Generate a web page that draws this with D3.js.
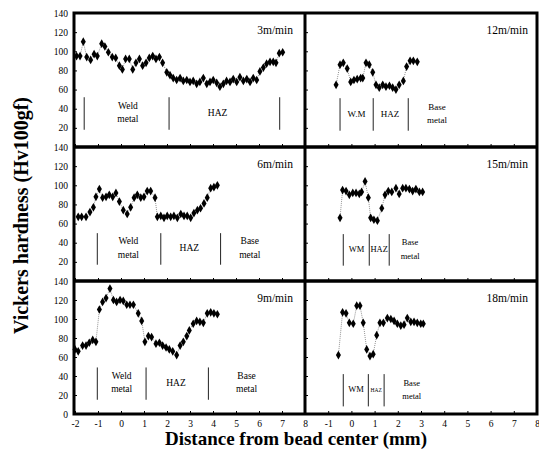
<!DOCTYPE html>
<html>
<head>
<meta charset="utf-8">
<script src="https://cdn.jsdelivr.net/npm/d3@7.9.0/dist/d3.min.js"></script>
<style>
  body { margin: 0; background: #fff; }
  svg text { font-family: "Liberation Serif", "DejaVu Serif", serif; fill: #000; }
</style>
</head>
<body>
<svg id="chart" width="539" height="455"></svg>
<script>
// ---- data ----
// 3 m/min
const pos3 = [-1.93,-1.78,-1.64,-1.49,-1.32,-1.17,-1.03,-0.84,-0.70,-0.55,-0.38,-0.23,-0.07,0.06,0.20,0.36,0.51,0.65,0.80,0.94,
  1.09,1.23,1.38,1.52,1.67,1.81,1.99,2.13,2.27,2.42,2.57,2.71,2.86,3.00,3.14,3.29,3.43,3.58,3.73,3.87,
  4.01,4.16,4.30,4.45,4.59,4.74,4.88,5.03,5.17,5.32,5.47,5.61,5.75,5.90,6.04,6.19,6.33,6.48,6.62,6.74,6.88,7.03];
const hv3 = [95,95,110,94,91,97,95,108,105,99,94,93,85,81,92,92,81,88,92,85,
  88,93,95,92,94,88,78,75,72,70,72,69,70,68,69,66,68,72,66,68,
  70,67,63,66,69,68,71,68,73,69,71,68,72,70,79,83,87,89,89,88,98,99];
// 12 m/min
const pos12 = [-0.66,-0.49,-0.35,-0.18,-0.03,0.11,0.25,0.40,0.49,0.63,0.77,0.92,1.06,1.20,1.35,1.49,1.64,1.78,1.92,2.06,2.24,2.38,2.53,2.67,2.84];
const hv12 = [65,86,88,82,68,70,71,72,72,88,86,78,65,62,65,63,64,62,60,65,69,84,90,90,89];
// 6 m/min
const pos6 = [-1.86,-1.71,-1.52,-1.35,-1.20,-1.09,-0.94,-0.80,-0.65,-0.51,-0.36,-0.22,-0.07,0.10,0.27,0.42,0.57,0.71,0.86,1.00,
  1.14,1.29,1.48,1.58,1.73,1.87,2.01,2.16,2.30,2.45,2.60,2.74,2.88,3.03,3.17,3.32,3.46,3.61,3.75,3.90,4.04,4.19];
const hv6 = [67,67,67,72,77,88,96,87,88,90,88,92,83,74,70,77,87,90,87,88,
  94,94,87,67,68,66,68,67,68,66,70,68,68,66,71,74,76,81,87,97,98,100];
// 15 m/min
const pos15 = [-0.49,-0.38,-0.23,-0.09,0.06,0.20,0.34,0.44,0.59,0.73,0.83,0.97,1.12,1.31,1.45,1.59,1.74,1.92,2.06,2.21,2.35,2.50,2.64,2.78,2.93,3.07];
const hv15 = [66,95,94,90,92,92,91,93,104,87,66,64,63,76,90,94,93,97,91,97,97,96,94,96,93,93];
// 9 m/min
const pos9 = [-2.00,-1.86,-1.67,-1.52,-1.38,-1.23,-1.09,-0.94,-0.80,-0.65,-0.48,-0.33,-0.19,-0.04,0.10,0.25,0.39,0.54,0.75,0.90,
  1.04,1.19,1.33,1.52,1.67,1.81,1.96,2.10,2.25,2.42,2.57,2.71,2.86,2.97,3.14,3.29,3.43,3.58,3.75,3.90,4.04,4.19];
const hv9 = [68,66,72,72,75,78,76,110,118,122,132,120,118,120,119,115,115,115,106,98,
  76,82,81,74,75,72,70,68,66,62,72,76,82,88,95,98,97,96,106,107,106,105];
// 18 m/min
const pos18 = [-0.56,-0.38,-0.23,-0.09,0.08,0.23,0.37,0.51,0.66,0.80,0.94,1.09,1.23,1.38,1.55,1.70,1.84,1.98,2.13,2.27,2.41,2.56,2.70,2.84,2.99,3.10];
const hv18 = [62,107,106,96,95,114,114,96,68,61,63,83,96,96,101,100,98,95,93,94,101,97,97,96,95,95];

// zone boundaries (mm) and zone names
const div3 = [-1.6, 2.09, 6.9];
const zone3 = [{ name: ['Weld', 'metal'], at: 0.3 }, { name: ['HAZ'], at: 4.2 }];
const div12 = [-0.49, 0.94, 2.45];
const zone12 = [{ name: ['W.M'], at: 0.22 }, { name: ['HAZ'], at: 1.66 }, { name: ['Base', 'metal'], at: 3.69 }];
const div6 = [-1.03, 1.73, 4.33];
const zone6 = [{ name: ['Weld', 'metal'], at: 0.32 }, { name: ['HAZ'], at: 2.97 }, { name: ['Base', 'metal'], at: 5.6 }];
const div15 = [-0.35, 0.77, 1.63];
const zone15 = [{ name: ['WM'], at: 0.22 }, { name: ['HAZ'], at: 1.2 }, { name: ['Base', 'metal'], at: 2.53 }];
const div9 = [-1.03, 1.09, 3.80];
const zone9 = [{ name: ['Weld', 'metal'], at: 0.03 }, { name: ['HAZ'], at: 2.39 }, { name: ['Base', 'metal'], at: 5.46 }];
const div18 = [-0.35, 0.73, 1.41];
const zone18 = [{ name: ['WM'], at: 0.2 }, { name: ['HAZ'], at: 1.07 }, { name: ['Base', 'metal'], at: 2.6 }];

const yTicks = [0, 20, 40, 60, 80, 100, 120, 140];
const xTicks = [-2, -1, 0, 1, 2, 3, 4, 5, 6, 7, 8];

const panels = [
  { speed: '3m/min',  col: 0, row: 0, pos: pos3,  hv: hv3,  divs: div3,  zones: zone3,  span: [18, 52], zoneSize: 9.5 },
  { speed: '12m/min', col: 1, row: 0, pos: pos12, hv: hv12, divs: div12, zones: zone12, span: [17, 51], zoneSize: 9 },
  { speed: '6m/min',  col: 0, row: 1, pos: pos6,  hv: hv6,  divs: div6,  zones: zone6,  span: [17, 50], zoneSize: 9.5 },
  { speed: '15m/min', col: 1, row: 1, pos: pos15, hv: hv15, divs: div15, zones: zone15, span: [16, 49], zoneSize: 8.5 },
  { speed: '9m/min',  col: 0, row: 2, pos: pos9,  hv: hv9,  divs: div9,  zones: zone9,  span: [15, 49], zoneSize: 9.5 },
  { speed: '18m/min', col: 1, row: 2, pos: pos18, hv: hv18, divs: div18, zones: zone18, span: [8, 42],  zoneSize: 8.5 }
];

// ---- layout ----
const frame = { left: 74, right: 537, top: 13, bottom: 414 };
const colX = [[75, 305], [305, 537]];
const rowY = [[13, 147], [147, 281], [281, 414]];

const svg = d3.select('#chart');
const diamond = d3.symbol().type(d3.symbolDiamond).size(22);

panels.forEach((p) => {
  const x = d3.scaleLinear().domain([-2, 8]).range(colX[p.col]);
  const y = d3.scaleLinear().domain([0, 140]).range([rowY[p.row][1], rowY[p.row][0]]);
  const g = svg.append('g');

  // inner tick marks
  const left = colX[p.col][0] - (p.col === 0 ? 1 : 0);
  g.append('g')
    .attr('transform', `translate(${left},0)`)
    .call(d3.axisRight(y).tickValues(yTicks).tickSize(3).tickFormat(''))
    .call((a) => a.select('.domain').remove())
    .selectAll('line').attr('stroke', '#000');
  g.append('g')
    .attr('transform', `translate(0,${rowY[p.row][1]})`)
    .call(d3.axisTop(x).tickValues(xTicks).tickSize(3).tickFormat(''))
    .call((a) => a.select('.domain').remove())
    .selectAll('line').attr('stroke', '#000');

  // y labels on the left column
  if (p.col === 0) {
    const labs = p.row === 2 ? yTicks : yTicks.slice(1);
    g.append('g')
      .attr('transform', `translate(${frame.left},0)`)
      .call(d3.axisLeft(y).tickValues(labs).tickSize(0).tickPadding(6))
      .call((a) => a.select('.domain').remove())
      .selectAll('text')
      .attr('font-family', '"Liberation Serif", serif')
      .attr('font-size', 9.5);
  }

  // x labels on the bottom row
  if (p.row === 2) {
    const labs = p.col === 0 ? xTicks : xTicks.slice(1);
    g.append('g')
      .attr('transform', `translate(0,${frame.bottom})`)
      .call(d3.axisBottom(x).tickValues(labs).tickSize(0).tickPadding(6).tickFormat((d) => String(d)))
      .call((a) => a.select('.domain').remove())
      .selectAll('text')
      .attr('font-family', '"Liberation Serif", serif')
      .attr('font-size', 9.5);
  }

  // zone boundaries
  g.selectAll('.div')
    .data(p.divs)
    .join('line')
    .attr('x1', (d) => x(d)).attr('x2', (d) => x(d))
    .attr('y1', y(p.span[0])).attr('y2', y(p.span[1]))
    .attr('stroke', '#222')
    .attr('stroke-width', 1);

  // zone names
  const mid = (p.span[0] + p.span[1]) / 2;
  p.zones.forEach((z) => {
    const size = (p.speed === '18m/min' && z.name[0] === 'HAZ') ? 5.5 : p.zoneSize;
    z.name.forEach((line, i) => {
      const off = z.name.length === 1 ? 0 : (i === 0 ? 7 : -7);
      g.append('text')
        .attr('x', x(z.at))
        .attr('y', y(mid + off))
        .attr('text-anchor', 'middle')
        .attr('dominant-baseline', 'middle')
        .attr('font-size', size)
        .text(line);
    });
  });

  // speed label
  g.append('text')
    .attr('x', colX[p.col][1] - (p.col === 0 ? 12 : 9))
    .attr('y', y(121))
    .attr('text-anchor', 'end')
    .attr('dominant-baseline', 'middle')
    .attr('font-size', 11.5)
    .text(p.speed);

  // profile
  const pts = p.pos.map((d, i) => [d, p.hv[i]]);
  g.append('path')
    .datum(pts)
    .attr('fill', 'none')
    .attr('stroke', '#777')
    .attr('stroke-width', 0.8)
    .attr('stroke-dasharray', '1,1')
    .attr('d', d3.line().x((d) => x(d[0])).y((d) => y(d[1])));

  g.selectAll('.pt')
    .data(pts)
    .join('path')
    .attr('transform', (d) => `translate(${x(d[0])},${y(d[1])})`)
    .attr('d', diamond)
    .attr('fill', '#000');
});

// frame and dividers
svg.append('rect')
  .attr('x', frame.left).attr('y', frame.top)
  .attr('width', frame.right - frame.left).attr('height', frame.bottom - frame.top)
  .attr('fill', 'none').attr('stroke', '#000').attr('stroke-width', 3);
svg.append('line')
  .attr('x1', colX[1][0]).attr('x2', colX[1][0])
  .attr('y1', frame.top).attr('y2', frame.bottom)
  .attr('stroke', '#000').attr('stroke-width', 3);
[rowY[1][0], rowY[2][0]].forEach((yy) => {
  svg.append('line')
    .attr('x1', frame.left).attr('x2', frame.right)
    .attr('y1', yy).attr('y2', yy)
    .attr('stroke', '#000').attr('stroke-width', 3.5);
});

// axis titles
svg.append('text')
  .attr('transform', `translate(28,${(frame.top + frame.bottom) / 2 + 2}) rotate(-90)`)
  .attr('text-anchor', 'middle')
  .attr('font-weight', 'bold')
  .attr('font-size', 20)
  .text('Vickers hardness (Hv100gf)');

svg.append('text')
  .attr('x', 296)
  .attr('y', 445)
  .attr('text-anchor', 'middle')
  .attr('font-weight', 'bold')
  .attr('font-size', 19)
  .text('Distance from bead center (mm)');
</script>
</body>
</html>
